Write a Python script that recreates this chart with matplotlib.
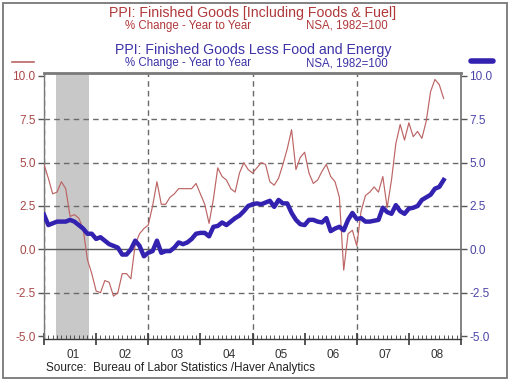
import numpy as np
import matplotlib
matplotlib.use("Agg")
import matplotlib.pyplot as plt
from matplotlib.lines import Line2D
from matplotlib.patches import Rectangle

plt.rcParams['font.family'] = ['Liberation Sans', 'DejaVu Sans']

# monthly data, Jan 2001 .. Sep 2008 (% change year to year)
start_year = 2001
ppi_total = [
    4.9, 4.1, 3.2, 3.3, 3.9, 3.5, 1.9, 2.0, 1.8, 1.2, -0.6, -1.4,   # 2001
    -2.4, -2.5, -1.8, -1.9, -2.7, -2.5, -1.4, -1.4, -1.7, 0.3, 0.9, 1.2,  # 2002
    1.4, 2.5, 3.9, 2.6, 2.6, 3.0, 3.2, 3.5, 3.5, 3.5, 3.5, 3.8,   # 2003
    3.2, 2.6, 1.5, 2.9, 4.7, 4.2, 4.0, 3.5, 3.3, 4.4, 5.0, 4.6,   # 2004
    4.4, 4.7, 5.0, 4.9, 3.9, 3.7, 4.1, 4.9, 5.8, 6.9, 4.6, 5.3,   # 2005
    5.6, 4.4, 3.8, 4.0, 4.5, 4.9, 4.2, 3.9, 3.0, -1.2, 0.9, 1.1,  # 2006
    0.2, 2.2, 3.1, 3.3, 3.6, 3.3, 4.2, 2.4, 4.0, 6.1, 7.2, 6.3,   # 2007
    7.3, 6.5, 6.8, 6.4, 7.4, 9.1, 9.8, 9.5, 8.7,                  # 2008
]
ppi_core = [
    2.0, 1.4, 1.5, 1.6, 1.6, 1.6, 1.7, 1.6, 1.4, 1.2, 0.9, 0.9,
    0.6, 0.7, 0.5, 0.3, 0.2, 0.1, -0.3, -0.3, 0.0, 0.5, 0.2, -0.4,
    -0.2, -0.1, 0.5, -0.2, -0.1, -0.1, 0.1, 0.4, 0.3, 0.4, 0.6, 0.9,
    0.95, 0.95, 0.75, 1.3, 1.35, 1.55, 1.4, 1.6, 1.8, 1.95, 2.2, 2.5,
    2.6, 2.65, 2.6, 2.7, 2.8, 2.45, 2.85, 2.65, 2.65, 2.1, 1.7, 1.45,
    1.4, 1.7, 1.7, 1.6, 1.55, 1.8, 1.05, 1.2, 1.3, 1.1, 1.7, 2.1,
    1.75, 1.8, 1.6, 1.6, 1.65, 1.7, 2.4, 2.15, 2.05, 2.55, 2.2, 2.05,
    2.35, 2.4, 2.5, 2.85, 3.0, 3.15, 3.5, 3.6, 4.0,
]
recession = (2001 + 2.8 / 12, 2001 + 10.4 / 12)
year_labels = ['01', '02', '03', '04', '05', '06', '07', '08']
y_ticks = [-5.0, -2.5, 0.0, 2.5, 5.0, 7.5, 10.0]

red_text = '#B0383A'
red_line = '#BD6464'
blue_text = '#3D33A6'
blue_line = '#3322B0'
grid_c = '#6A6A6A'

x_total = start_year + np.arange(len(ppi_total)) / 12
x_core = start_year + np.arange(len(ppi_core)) / 12

fig = plt.figure(figsize=(5.10, 3.81), dpi=100)
ax = fig.add_axes([44 / 510, 1 - 339 / 381, 417 / 510, 266 / 381])
ax.set_xlim(2001, 2009)
ax.set_ylim(-5.17, 10.17)

# recession band
ax.axvspan(*recession, color='#C8C8C8', lw=0, zorder=0)

# grid
for y in y_ticks:
    if y in (-5.0, 10.0):
        continue
    if y == 0.0:
        ax.axhline(y, color='#5A5A5A', lw=1.0, zorder=1)
    else:
        ax.axhline(y, color=grid_c, lw=1.0, ls=(0, (4, 3)), zorder=1)
for yr in (2001, 2003, 2005, 2007):
    ax.axvline(yr, color=grid_c, lw=1.0, ls=(0, (4, 3)), zorder=1)

ax.plot(x_total, ppi_total, color=red_line, lw=0.85, zorder=3)
ax.plot(x_core, ppi_core, color=blue_line, lw=3.2, zorder=4, solid_joinstyle='round')

# spines
for side in ('top', 'right', 'left'):
    ax.spines[side].set_color('#7A7A7A')
ax.spines['top'].set_linewidth(2.0)
ax.spines['right'].set_linewidth(1.3)
ax.spines['left'].set_linewidth(1.0)
ax.spines['bottom'].set_color('#3A3A3A')
ax.spines['bottom'].set_linewidth(1.0)

# x axis: year boundaries + monthly minor ticks, labels mid-year
ax.set_xticks(np.arange(2001, 2010))
ax.set_xticklabels([])
ax.set_xticks(np.arange(2001, 2009 + 1e-9, 1 / 12), minor=True)
ax.tick_params(axis='x', which='major', direction='inout', length=8, width=1.2, color='#3A3A3A')
ax.tick_params(axis='x', which='minor', direction='in', length=3, width=0.6, color='#3A3A3A')
sec = ax.secondary_xaxis('bottom')
sec.set_xticks(np.arange(2001, 2009) + 0.55)
sec.set_xticklabels(year_labels)
sec.tick_params(length=0, pad=7, labelsize=8.5, labelcolor='#333333')
sec.spines['bottom'].set_visible(False)

# y axes
ax.set_yticks(y_ticks)
ax.set_yticklabels([f'{v:.1f}' for v in y_ticks])
ax.tick_params(axis='y', direction='out', length=4, width=1.0, color='#555555',
               labelsize=8.5, labelcolor='#A84848', pad=2)
ax2 = ax.twinx()
ax2.set_ylim(ax.get_ylim())
ax2.set_yticks(y_ticks)
ax2.set_yticklabels([f'{v:.1f}' for v in y_ticks])
ax2.tick_params(axis='y', direction='out', length=4, width=1.0, color='#555555',
                labelsize=8.5, labelcolor='#4B44A8', pad=2)
for s in ax2.spines.values():
    s.set_visible(False)

# titles
fig.text(0.496, 1 - 13 / 381, 'PPI: Finished Goods [Including Foods & Fuel]',
         ha='center', va='center', fontsize=10.2, color=red_text)
fig.text(125 / 510, 1 - 26 / 381, '% Change - Year to Year',
         ha='left', va='center', fontsize=8.3, color=red_text)
fig.text(306 / 510, 1 - 26 / 381, 'NSA, 1982=100',
         ha='left', va='center', fontsize=8.3, color=red_text)
fig.text(0.496, 1 - 50 / 381, 'PPI: Finished Goods Less Food and Energy',
         ha='center', va='center', fontsize=10.2, color=blue_text)
fig.text(125 / 510, 1 - 63 / 381, '% Change - Year to Year',
         ha='left', va='center', fontsize=8.3, color=blue_text)
fig.text(306 / 510, 1 - 63 / 381, 'NSA, 1982=100',
         ha='left', va='center', fontsize=8.3, color=blue_text)

# legend keys
fig.add_artist(Line2D([12 / 510, 34 / 510], [1 - 62 / 381] * 2, color=red_line, lw=1.2))
fig.add_artist(Line2D([471 / 510, 493 / 510], [1 - 61 / 381] * 2, color=blue_line, lw=4,
                      solid_capstyle='round'))

fig.text(46 / 510, 1 - 368 / 381, 'Source:  Bureau of Labor Statistics /Haver Analytics',
         ha='left', va='center', fontsize=8.5, color='#222222')

# outer frame
fig.add_artist(Rectangle((3 / 510, 3 / 381), 504 / 510, 375 / 381, transform=fig.transFigure,
                         fill=False, edgecolor='#777777', lw=1.3))

fig.savefig('out.png', dpi=100)
